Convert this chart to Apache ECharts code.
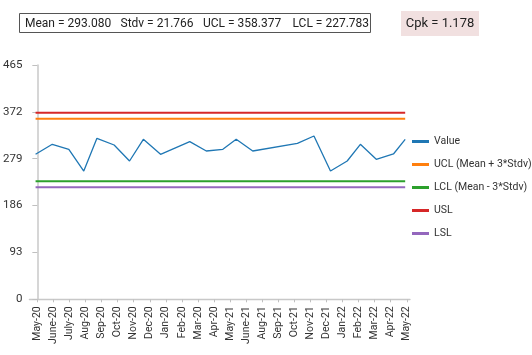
<!DOCTYPE html>
<html><head><meta charset="utf-8">
<script src="https://cdn.jsdelivr.net/npm/echarts@6/dist/echarts.min.js"></script>
<style>html,body{margin:0;padding:0;background:#fff}#c{width:532px;height:355px}</style>
</head><body><div id="c"></div>
<script>
// Tick labels (one per tick, index 0..23)
const categories = ["May-20","June-20","July-20","Aug-20","Sep-20","Oct-20","Nov-20","Dec-20","Jan-20","Feb-20","Mar-20","Apr-20","May-21","June-21","Aug-21","Sep-21","Oct-21","Nov-21","Dec-21","Jan-22","Feb-22","Mar-22","Apr-22","May-22"];
// Visible vertices of the Value line: position along the tick index scale, and value
const xPos = [-0.11,0.93,1.96,2.89,3.71,4.78,5.74,6.60,7.67,9.49,10.52,11.55,12.38,13.41,16.19,17.22,18.25,19.29,20.11,21.10,22.17,22.90];
const values = [287.8,307.6,297.7,254.6,319.5,306.2,274.5,317.5,287.8,312.8,294.3,297.7,317.5,294.3,309.6,324.1,254.6,274.5,307.6,277.8,288.4,317.5];
const yTicks = [0,93,186,279,372,465];
const meanVal = "293.080", stdvVal = "21.766", uclVal = "358.377", lclVal = "227.783", cpkVal = "1.178";
// Horizontal reference lines as drawn
const uclLine = 358.4, lclLine = 234.2, uslLine = 370.3, lslLine = 222.3;
</script>
<script>
const chart = echarts.init(document.getElementById('c'));
const FONT = 'Roboto';
const tickIdx = categories.map((_, i) => i);
const x0 = xPos[0], x1 = xPos[xPos.length - 1];
const hline = v => [[x0, v], [x1, v]];
const lineSeries = (name, data, color, width, z) => ({
  name, type: 'line', data, showSymbol: false, symbol: 'none',
  lineStyle: { color, width }, itemStyle: { color }, z
});
chart.setOption({
  animation: false,
  textStyle: { fontFamily: FONT },
  grid: { left: 27, right: 122, top: 65, bottom: 55.7, containLabel: false },
  xAxis: {
    type: 'value', min: -0.495, max: 23.2,
    axisLine: { show: true, lineStyle: { color: '#c8c8c8', width: 1.3 } },
    axisTick: { show: true, length: 3, lineStyle: { color: '#c0c0c0' }, customValues: tickIdx },
    axisLabel: { rotate: 90, fontSize: 10.5, color: '#333', margin: 7, fontFamily: FONT,
      customValues: tickIdx, formatter: v => categories[Math.round(v)] },
    splitLine: { show: false }
  },
  yAxis: {
    type: 'value', min: yTicks[0], max: yTicks[yTicks.length - 1], interval: yTicks[1] - yTicks[0],
    axisLine: { show: true, lineStyle: { color: '#c8c8c8', width: 1.5 } },
    axisTick: { show: true, length: 5, lineStyle: { color: '#c0c0c0' } },
    axisLabel: { fontSize: 11.5, color: '#333', margin: 7, fontFamily: FONT },
    splitLine: { show: false }
  },
  legend: {
    orient: 'vertical', left: 412, top: 134.5, padding: 0, itemWidth: 17, itemHeight: 3, itemGap: 9,
    icon: 'rect',
    textStyle: { fontSize: 10.5, color: '#333', lineHeight: 14, fontFamily: FONT },
    data: ['Value', 'UCL (Mean + 3*Stdv)', 'LCL (Mean - 3*Stdv)', 'USL', 'LSL']
  },
  series: [
    lineSeries('Value', xPos.map((x, i) => [x, values[i]]), '#1f77b4', 1.3, 5),
    lineSeries('UCL (Mean + 3*Stdv)', hline(uclLine), '#ff7f0e', 2, 3),
    lineSeries('LCL (Mean - 3*Stdv)', hline(lclLine), '#2ca02c', 2, 3),
    lineSeries('USL', hline(uslLine), '#d62728', 2, 3),
    lineSeries('LSL', hline(lslLine), '#9467bd', 2, 3)
  ],
  graphic: [
    { type: 'rect', shape: { x: 19.5, y: 13.5, width: 351, height: 19 }, style: { fill: '#fff', stroke: '#555', lineWidth: 1 } },
    { type: 'text', x: 25, y: 23.5, style: { text: 'Mean = ' + meanVal, font: '12px Roboto', fill: '#222', verticalAlign: 'middle' } },
    { type: 'text', x: 120.5, y: 23.5, style: { text: 'Stdv = ' + stdvVal, font: '12px Roboto', fill: '#222', verticalAlign: 'middle' } },
    { type: 'text', x: 203, y: 23.5, style: { text: 'UCL = ' + uclVal, font: '12px Roboto', fill: '#222', verticalAlign: 'middle' } },
    { type: 'text', x: 292.5, y: 23.5, style: { text: 'LCL = ' + lclVal, font: '12px Roboto', fill: '#222', verticalAlign: 'middle' } },
    { type: 'rect', shape: { x: 401, y: 11, width: 78, height: 25 }, style: { fill: '#f1e0e0' } },
    { type: 'text', x: 440, y: 23.5, style: { text: 'Cpk = ' + cpkVal, font: '13px Roboto', fill: '#222', align: 'center', verticalAlign: 'middle' } }
  ]
});
</script>
</body></html>
